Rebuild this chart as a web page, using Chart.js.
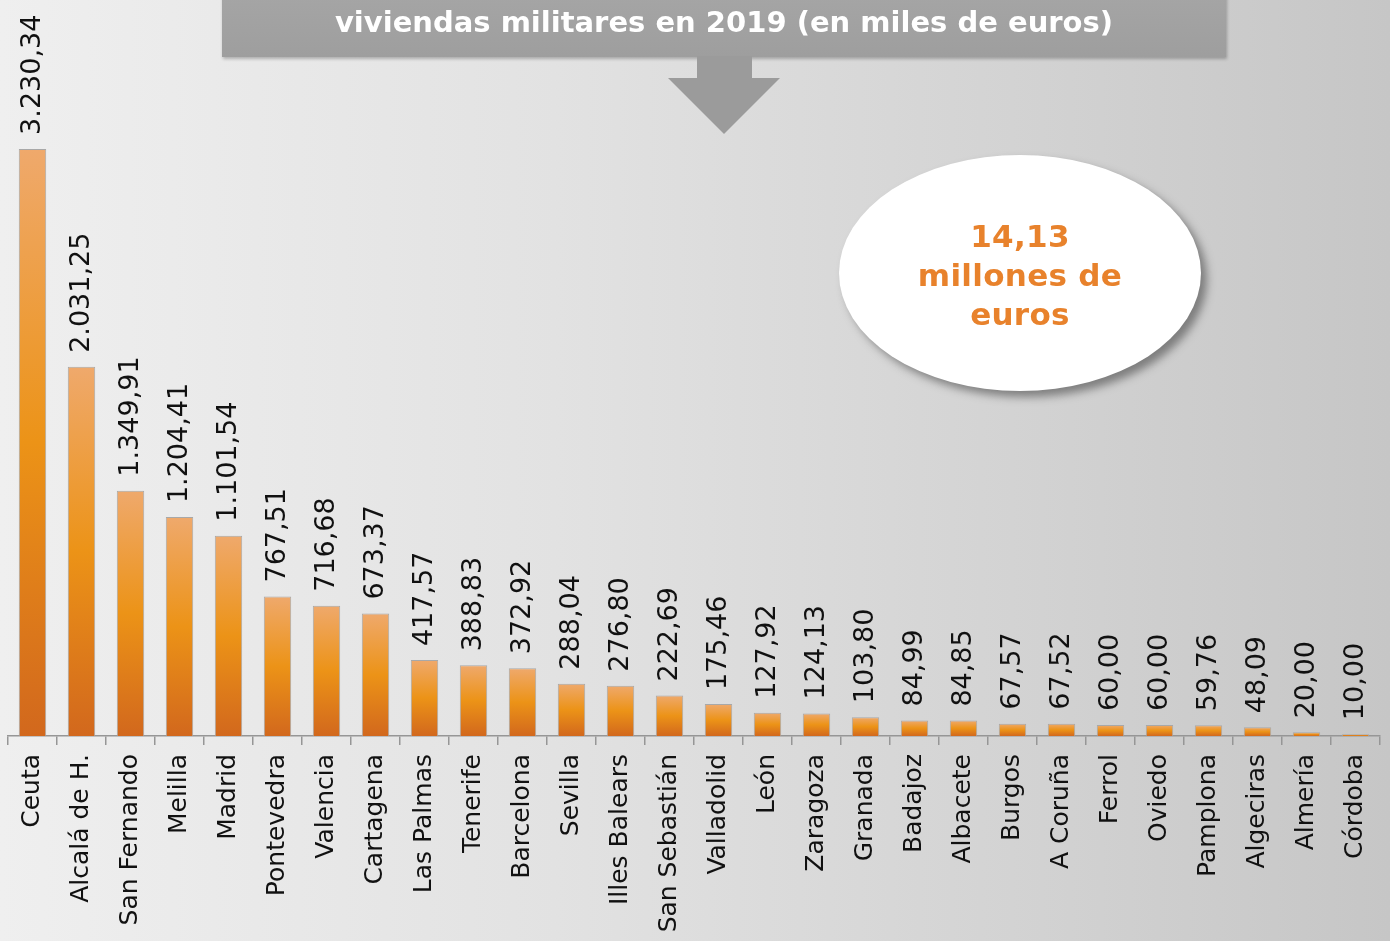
<!DOCTYPE html>
<html>
<head>
<meta charset="utf-8">
<script src="https://cdn.jsdelivr.net/npm/chart.js@4/dist/chart.umd.min.js"></script>
<style>
  html, body { margin:0; padding:0; }
  body {
    width:1390px; height:941px; overflow:hidden; position:relative;
    background: linear-gradient(to right, #efefef 0%, #e2e2e2 40%, #d2d2d2 75%, #c6c6c6 100%);
    font-family: "DejaVu Sans", Verdana, sans-serif;
  }
  #wrap { position:absolute; left:0; top:0; width:1390px; height:941px; }
  #banner {
    position:absolute; left:222px; top:-40px; width:1004px; height:97px;
    background: linear-gradient(to bottom, #a9a9a9, #9e9e9e);
    box-shadow: 1px 2px 3px rgba(0,0,0,0.25);
    color:#ffffff; font-weight:bold; font-size:29px; text-align:center;
    font-family: "DejaVu Sans", Verdana, sans-serif;
  }
  #banner .l2 { position:absolute; left:0; right:0; top:45px; line-height:34px; }
  #arrow { position:absolute; left:660px; top:56px; }
  #bubble {
    position:absolute; left:839px; top:155px; width:362px; height:236px;
    border-radius:50%; background:#ffffff;
    box-shadow: 6px 6px 9px rgba(60,60,60,0.55);
  }
  #bubble .txt {
    position:absolute; left:0; right:0; top:62px; text-align:center;
    color:#e8822c; font-weight:bold; font-size:31px; line-height:39px;
    letter-spacing:0.3px;
    font-family: "DejaVu Sans", Verdana, sans-serif;
  }
</style>
</head>
<body>
<div id="wrap"><canvas id="c"></canvas></div>
<div id="banner"><div class="l2">viviendas militares en 2019 (en miles de euros)</div></div>
<svg id="arrow" width="130" height="82" viewBox="0 0 130 82">
  <polygon points="37,0 92,0 92,22 120,22 64,78 8,22 37,22" fill="#9b9b9b"/>
</svg>
<div id="bubble"><div class="txt">14,13<br>millones de<br>euros</div></div>
<script>
const categories = ["Ceuta","Alcalá de H.","San Fernando","Melilla","Madrid","Pontevedra","Valencia","Cartagena","Las Palmas","Tenerife","Barcelona","Sevilla","Illes Balears","San Sebastián","Valladolid","León","Zaragoza","Granada","Badajoz","Albacete","Burgos","A Coruña","Ferrol","Oviedo","Pamplona","Algeciras","Almería","Córdoba"];
const values = [3230.34,2031.25,1349.91,1204.41,1101.54,767.51,716.68,673.37,417.57,388.83,372.92,288.04,276.80,222.69,175.46,127.92,124.13,103.80,84.99,84.85,67.57,67.52,60.00,60.00,59.76,48.09,20.00,10.00];
const yMin = 0, yMax = 4000;

function fmtES(v) {
  const parts = v.toFixed(2).split(".");
  const intPart = parts[0].replace(/\B(?=(\d{3})+(?!\d))/g, ".");
  return intPart + "," + parts[1];
}

function barGradient(ctx) {
  const chart = ctx.chart;
  if (!chart.chartArea || ctx.type !== 'data') return '#ec9216';
  const ys = chart.scales.y;
  const top = ys.getPixelForValue(ctx.raw);
  const base = ys.getPixelForValue(0);
  if (!isFinite(top) || !isFinite(base) || base - top < 1) return '#ec9216';
  const g = chart.ctx.createLinearGradient(0, top, 0, base);
  g.addColorStop(0, '#efa96c');
  g.addColorStop(0.5, '#ec9317');
  g.addColorStop(1, '#d2681d');
  return g;
}

const valueLabels = {
  id: 'valueLabels',
  afterDatasetsDraw(chart) {
    const c = chart.ctx;
    const meta = chart.getDatasetMeta(0);
    c.save();
    c.font = '27px "DejaVu Sans", Verdana, sans-serif';
    c.fillStyle = '#111111';
    c.textAlign = 'left';
    c.textBaseline = 'middle';
    meta.data.forEach((bar, i) => {
      c.save();
      c.translate(bar.x, bar.y - 14);
      c.rotate(-Math.PI / 2);
      c.fillText(fmtES(values[i]), 0, 0);
      c.restore();
    });
    c.restore();
  }
};

new Chart(document.getElementById('c'), {
  type: 'bar',
  data: {
    labels: categories,
    datasets: [{
      data: values,
      backgroundColor: barGradient,
      borderColor: '#a8a8a8',
      borderWidth: 1,
      barPercentage: 0.56,
      categoryPercentage: 1.0
    }]
  },
  options: {
    responsive: true,
    maintainAspectRatio: false,
    animation: false,
    layout: { padding: { top: 9, left: 8, right: 10, bottom: 0 } },
    plugins: { legend: { display: false }, tooltip: { enabled: false }, title: { display: false } },
    scales: {
      x: {
        offset: true,
        grid: { display: true, drawOnChartArea: false, drawTicks: true, tickLength: 9, color: '#969696', lineWidth: 1.5, offset: true },
        border: { display: true, color: '#969696', width: 1.5 },
        ticks: {
          autoSkip: false, minRotation: 90, maxRotation: 90, padding: 9,
          color: '#111111',
          font: { family: '"DejaVu Sans", Verdana, sans-serif', size: 25 }
        },
        afterFit(scale) { scale.height = 205; scale.paddingLeft = 0; scale.paddingRight = 0; }
      },
      y: { display: false, min: yMin, max: yMax }
    }
  },
  plugins: [valueLabels]
});
</script>
</body>
</html>
